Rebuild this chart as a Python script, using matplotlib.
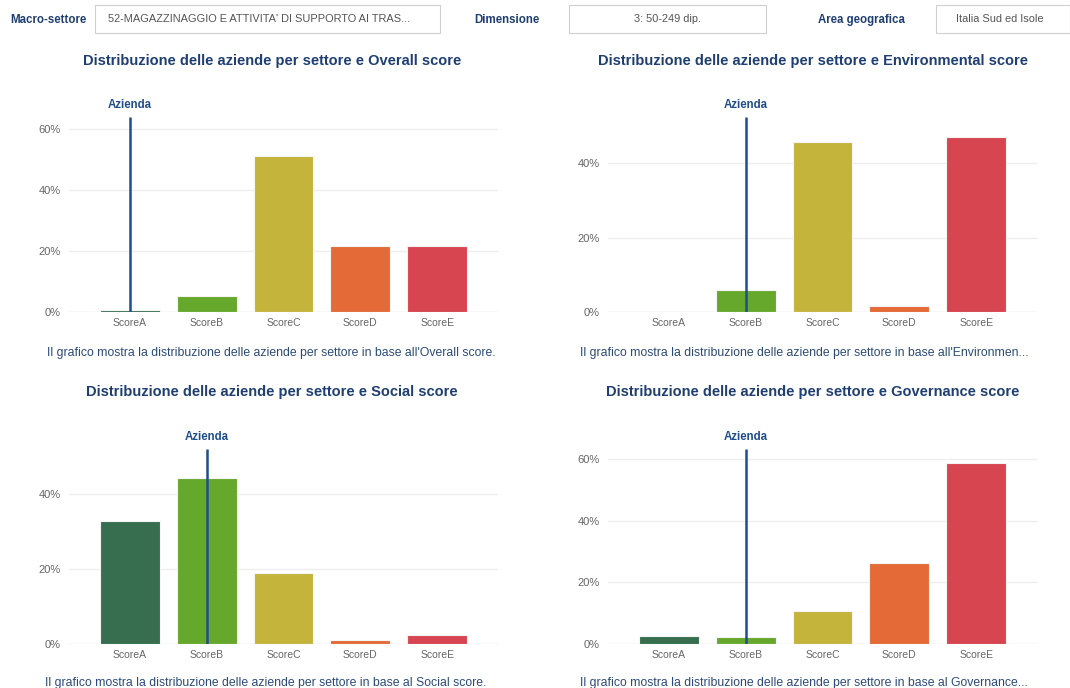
import matplotlib
matplotlib.use("Agg")
import matplotlib.pyplot as plt
from matplotlib.patches import Rectangle
from matplotlib.ticker import FuncFormatter

plt.rcParams["font.family"] = ["Liberation Sans", "DejaVu Sans"]

W, H = 1070, 688

categories = ["ScoreA", "ScoreB", "ScoreC", "ScoreD", "ScoreE"]
bar_colors = ["#376e4f", "#66a82b", "#c4b43c", "#e46b37", "#d64550"]

overall = [0.6, 5.4, 51.2, 21.6, 21.6]
environmental = [0.0, 5.8, 45.7, 1.7, 46.9]
social = [32.7, 44.3, 19.0, 1.2, 2.4]
governance = [2.6, 2.2, 10.8, 26.3, 58.6]

# category where the company ("Azienda") falls
azienda_overall = "ScoreA"
azienda_environmental = "ScoreB"
azienda_social = "ScoreB"
azienda_governance = "ScoreB"

titles = [
    "Distribuzione delle aziende per settore e Overall score",
    "Distribuzione delle aziende per settore e Environmental score",
    "Distribuzione delle aziende per settore e Social score",
    "Distribuzione delle aziende per settore e Governance score",
]
captions = [
    "Il grafico mostra la distribuzione delle aziende per settore in base all'Overall score.",
    "Il grafico mostra la distribuzione delle aziende per settore in base all'Environmen...",
    "Il grafico mostra la distribuzione delle aziende per settore in base al Social score.",
    "Il grafico mostra la distribuzione delle aziende per settore in base al Governance...",
]

DARK_BLUE = "#1f3f73"
LINE_BLUE = "#1f4e8c"
GRAY = "#666666"


def fx(px):
    return px / W


def fy(py):
    return 1 - py / H


def draw_panel(fig, rect, values, azienda, ymax, ticks, title, title_xy, caption, caption_xy):
    ax = fig.add_axes(rect)
    x = list(range(len(categories)))
    ax.bar(x, values, width=0.78, color=bar_colors, edgecolor="#f4f4f4", linewidth=0.8, zorder=2)
    ax.set_xlim(-0.79, len(categories) - 1 + 0.79)
    ax.set_ylim(0, ymax)
    ax.set_yticks(ticks)
    ax.yaxis.set_major_formatter(FuncFormatter(lambda v, p: f"{v:.0f}%"))
    ax.set_xticks(x)
    ax.set_xticklabels(categories)
    ax.grid(axis="y", color="#eeeeee", linewidth=1, zorder=0)
    ax.set_axisbelow(True)
    for s in ax.spines.values():
        s.set_visible(False)
    ax.tick_params(axis="both", length=0, labelcolor=GRAY)
    ax.tick_params(axis="x", pad=4, labelsize=7.5)
    ax.tick_params(axis="y", pad=6, labelsize=8)
    ax.axhline(0, color="#eeeeee", linewidth=1, zorder=1)
    xi = categories.index(azienda)
    ax.vlines(xi, 0, ymax, color=LINE_BLUE, linewidth=1.8, zorder=3)
    ax.annotate("Azienda", xy=(xi, ymax), xytext=(0, 4), textcoords="offset points",
                ha="center", va="bottom", fontsize=8.3, fontweight="bold",
                color=LINE_BLUE, annotation_clip=False)
    fig.text(fx(title_xy[0]), fy(title_xy[1]), title, ha="center", va="center",
             fontsize=10.5, fontweight="bold", color=DARK_BLUE)
    fig.text(fx(caption_xy[0]), fy(caption_xy[1]), caption, ha="left", va="center",
             fontsize=8.8, color="#2b4a7a")
    return ax


def header(fig):
    fig.text(fx(10), fy(20), "Macro-settore", ha="left", va="center",
             fontsize=8.3, fontweight="bold", color=DARK_BLUE)
    fig.text(fx(474), fy(20), "Dimensione", ha="left", va="center",
             fontsize=8.3, fontweight="bold", color=DARK_BLUE)
    fig.text(fx(818), fy(20), "Area geografica", ha="left", va="center",
             fontsize=8.3, fontweight="bold", color=DARK_BLUE)
    boxes = [(95, 440), (569, 766), (936, 1070)]
    for x0, x1 in boxes:
        fig.patches.append(Rectangle((fx(x0), fy(33)), fx(x1 - x0), 28 / H,
                                     transform=fig.transFigure, facecolor="white",
                                     edgecolor="#cfcfcf", linewidth=0.8))
    fig.text(fx(108), fy(19), "52-MAGAZZINAGGIO E ATTIVITA' DI SUPPORTO AI TRAS...",
             ha="left", va="center", fontsize=7.9, color="#555555")
    fig.text(fx(634), fy(19), "3: 50-249 dip.", ha="left", va="center",
             fontsize=7.9, color="#555555")
    fig.text(fx(956), fy(19), "Italia Sud ed Isole", ha="left", va="center",
             fontsize=7.9, color="#555555")


def main():
    fig = plt.figure(figsize=(W / 100, H / 100), dpi=100)
    fig.patch.set_facecolor("white")
    header(fig)

    left1, left2 = fx(69), fx(608)
    width = fx(429)
    height = 195 / H
    top_bottom = fy(312)
    low_bottom = fy(644)

    draw_panel(fig, [left1, top_bottom, width, height], overall, azienda_overall,
               63.9, [0, 20, 40, 60], titles[0], (272, 61), captions[0], (47, 353))
    draw_panel(fig, [left2, top_bottom, width, height], environmental, azienda_environmental,
               52.4, [0, 20, 40], titles[1], (813, 61), captions[1], (580, 353))
    draw_panel(fig, [left1, low_bottom, width, height], social, azienda_social,
               52.0, [0, 20, 40], titles[2], (272, 392), captions[2], (45, 683))
    draw_panel(fig, [left2, low_bottom, width, height], governance, azienda_governance,
               63.3, [0, 20, 40, 60], titles[3], (813, 392), captions[3], (580, 683))

    fig.savefig("out.png", dpi=100, facecolor="white")


if __name__ == '__main__':
    main()
